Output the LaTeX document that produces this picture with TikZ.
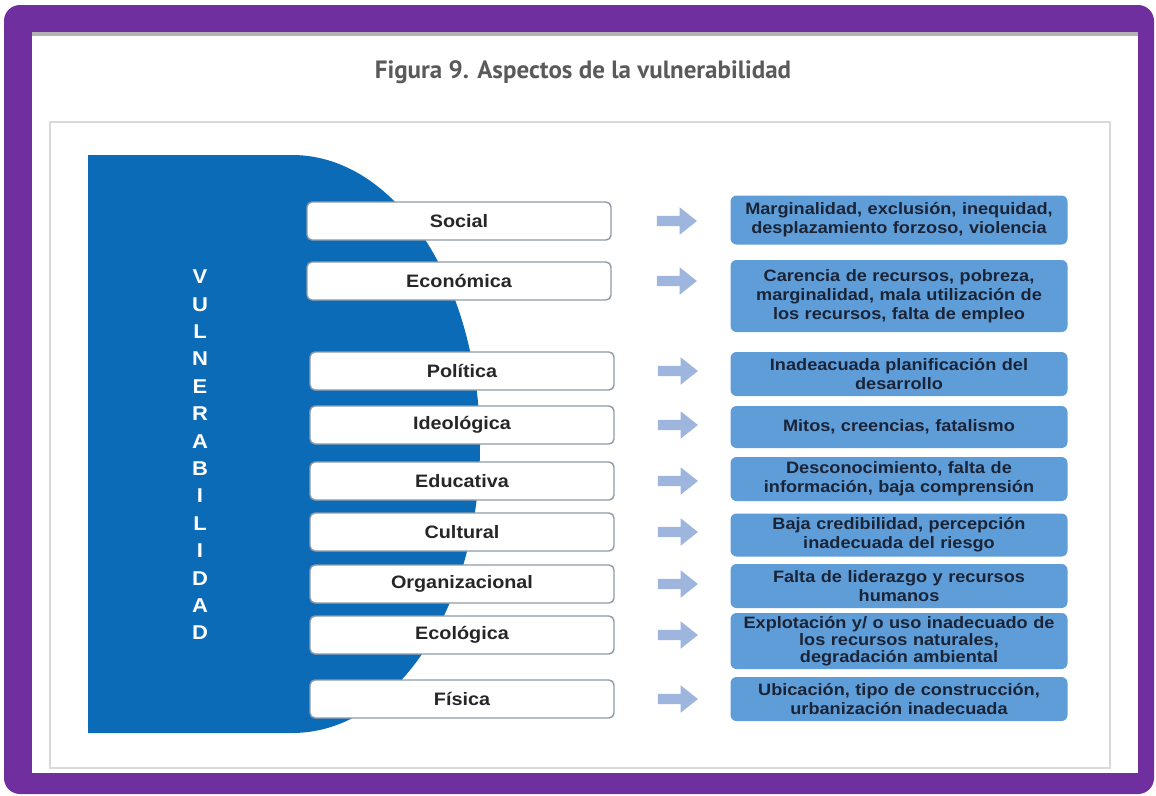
\documentclass[tikz,border=0pt]{standalone}
\usepackage{fontspec}
\setmainfont{Liberation Sans}
\newfontfamily\lblfont[FakeStretch=1.1]{Liberation Sans}
\newfontfamily\titlefont{PT Sans}
\usetikzlibrary{
    positioning,
    shapes.arrows,
}
\definecolor{framepurple}{HTML}{6F2F9E}
\definecolor{vulnblue}{HTML}{0B6BB7}
\definecolor{descblue}{HTML}{5F9DD9}
\definecolor{arrowblue}{HTML}{9EB6DD}
\definecolor{boxgray}{HTML}{8E9AA6}
\definecolor{titlegray}{HTML}{5A5A5A}
\definecolor{desctext}{HTML}{1B2436}

\tikzset{
    aspect/.style={draw=boxgray, line width=1.4pt, fill=white, rounded corners=5pt,
        minimum width=304pt, minimum height=38pt, inner sep=0pt,
        font=\lblfont\bfseries\fontsize{18}{20}\selectfont, text=black!85},
    desc/.style={fill=descblue, rounded corners=6pt, minimum width=337pt, inner sep=0pt,
        align=center, text width=337pt, text=desctext,
        font=\lblfont\bfseries\fontsize{16.5}{19}\selectfont},
    blkarrow/.style={single arrow, fill=arrowblue, draw=none, minimum height=40pt,
        inner sep=5pt, single arrow head extend=8.5pt, single arrow tip angle=77},
}

\begin{document}
\begin{tikzpicture}[x=1pt, y=-1pt]

    \useasboundingbox (0,0) rectangle (1156,795);
    \fill[framepurple, rounded corners=16pt] (4,5) rectangle (1154,794);
    \fill[white] (32,32) rectangle (1138,773);
    \fill[black!30] (32,32) rectangle (1138,36);
    \draw[black!15, line width=2pt] (50,122) rectangle (1110,768);

    \node[font=\titlefont\bfseries\fontsize{25}{30}\selectfont, text=titlegray] (title) at (583,72) {Figura 9. Aspectos de la vulnerabilidad};

    % blue D shape
    \fill[vulnblue] (88,155) -- (292,155) .. controls (397,155) and (480,285) .. (480,445)
        .. controls (480,605) and (397,733) .. (292,733) -- (88,733) -- cycle;
    \node[font=\lblfont\bfseries\fontsize{20}{27.4}\selectfont, text=white, align=center] (vword) at (200,455)
        {V\\U\\L\\N\\E\\R\\A\\B\\I\\L\\I\\D\\A\\D};

    % aspects
    \node[aspect] (l1) at (459,221) {Social};
    \node[aspect] (l2) at (459,281) {Económica};
    \node[aspect] (l3) at (462,371) {Política};
    \node[aspect] (l4) at (462,425) {Ideológica};
    \node[aspect] (l5) at (462,481) {Educativa};
    \node[aspect] (l6) at (462,532) {Cultural};
    \node[aspect] (l7) at (462,584) {Organizacional};
    \node[aspect] (l8) at (462,635) {Ecológica};
    \node[aspect] (l9) at (462,699) {Física};

    % descriptions
    \node[desc, minimum height=49pt] (r1) at (899,220) {Marginalidad, exclusión, inequidad,\\desplazamiento forzoso, violencia};
    \node[desc, minimum height=72pt] (r2) at (899,296) {Carencia de recursos, pobreza,\\marginalidad, mala utilización de\\los recursos, falta de empleo};
    \node[desc, minimum height=44pt] (r3) at (899,374) {Inadeacuada planificación del\\desarrollo};
    \node[desc, minimum height=42pt] (r4) at (899,427) {Mitos, creencias, fatalismo};
    \node[desc, minimum height=44pt] (r5) at (899,479) {Desconocimiento, falta de\\información, baja comprensión};
    \node[desc, minimum height=43pt] (r6) at (899,535) {Baja credibilidad, percepción\\inadecuada del riesgo};
    \node[desc, minimum height=44pt] (r7) at (899,586) {Falta de liderazgo y recursos\\humanos};
    \node[desc, minimum height=56pt, font=\lblfont\bfseries\fontsize{16.5}{17}\selectfont] (r8) at (899,641) {Explotación y/ o uso inadecuado de\\los recursos naturales,\\degradación ambiental};
    \node[desc, minimum height=44pt] (r9) at (899,699) {Ubicación, tipo de construcción,\\urbanización inadecuada};

    % arrows
    \node[blkarrow, right=45pt of l1] (a1) {};
    \node[blkarrow, right=45pt of l2] (a2) {};
    \node[blkarrow, right=43pt of l3] (a3) {};
    \node[blkarrow, right=43pt of l4] (a4) {};
    \node[blkarrow, right=43pt of l5] (a5) {};
    \node[blkarrow, right=43pt of l6] (a6) {};
    \node[blkarrow, right=43pt of l7] (a7) {};
    \node[blkarrow, right=43pt of l8] (a8) {};
    \node[blkarrow, right=43pt of l9] (a9) {};

\end{tikzpicture}
\end{document}
